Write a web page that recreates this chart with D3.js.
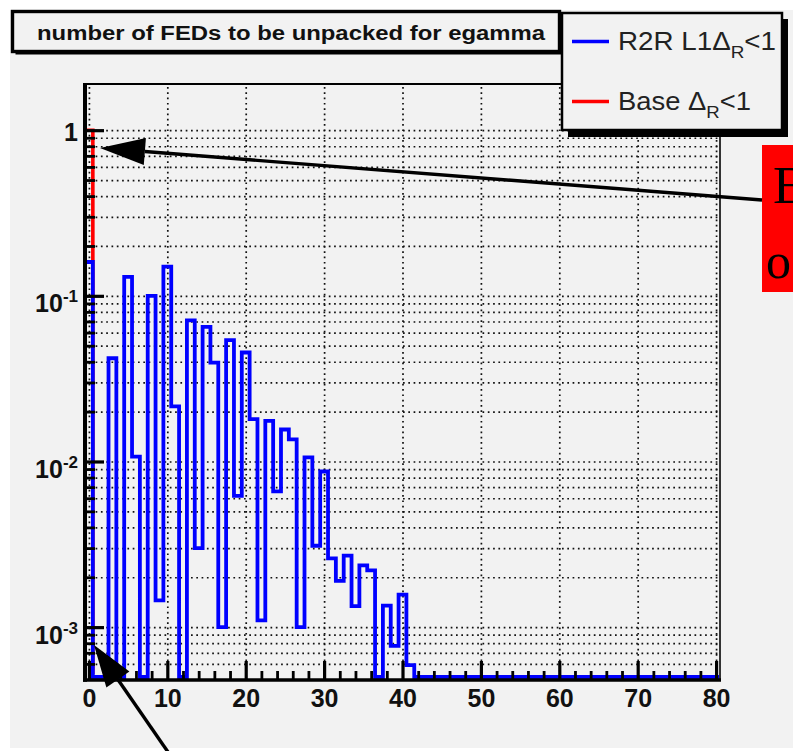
<!DOCTYPE html>
<html>
<head>
<meta charset="utf-8">
<script src="https://cdn.jsdelivr.net/npm/d3@7/dist/d3.min.js"></script>
<style>
  html, body { margin: 0; padding: 0; background: #fff; }
  svg { display: block; }
  text { font-family: "Liberation Sans", Arial, Helvetica, sans-serif; }
</style>
</head>
<body>
<div id="chart"></div>
<script>
// one bin per integer FED count, bins run from k-0.5 to k+0.5
const fedBins = d3.range(0, 81);
// R2R L1 dR<1 (blue), normalised contents of bins 0..41, later bins are empty
const r2rValues = [
  0.16, 0, 0, 0.042, 0, 0.13, 0.0107, 0, 0.10, 0.00145,
  0.15, 0.0215, 0, 0.071, 0.003, 0.065, 0.0395, 0.001, 0.054, 0.0062,
  0.0455, 0.018, 0.0011, 0.0176, 0.0066, 0.0156, 0.0136, 0.001, 0.0106, 0.0031,
  0.0087, 0.0026, 0.0019, 0.0027, 0.00134, 0.00236, 0.0022, 0, 0.00135, 0.00077,
  0.00157, 0.00059
];
// Base dR<1 (red): everything sits in bin 0
const baseValues = [1];

const xTickLabels = [0, 10, 20, 30, 40, 50, 60, 70, 80];
const yMajorTicks = [1, 1e-1, 1e-2, 1e-3];
const yTickExponents = ["", "-1", "-2", "-3"];

const titleText = "number of FEDs to be unpacked for egamma";

const width = 793, height = 751;
const frame = {left: 85, right: 720, top: 84, bottom: 677};
const axisLineY = 680;
const bg = "#f2f2f2";

const svg = d3.select("#chart").append("svg")
    .attr("width", width)
    .attr("height", height);

// canvas
svg.append("rect")
    .attr("x", 10).attr("y", 10)
    .attr("width", width - 10).attr("height", 738)
    .attr("fill", bg);

const x = d3.scaleLinear().domain([-0.5, 80.5]).range([frame.left, frame.right]);
const y = d3.scaleLog().domain([5e-4, 1.9]).range([frame.bottom, frame.top]);

// dotted grid
const dotted = sel => sel.selectAll("line")
    .attr("stroke", "#111")
    .attr("stroke-width", 1.7)
    .attr("stroke-dasharray", "1.7,3.6");

svg.append("g")
    .attr("class", "xGrid")
    .attr("transform", "translate(0," + frame.bottom + ")")
    .call(d3.axisBottom(x).tickValues(xTickLabels).tickSize(-(frame.bottom - frame.top)).tickFormat(""))
    .call(g => g.select(".domain").remove())
    .call(dotted);

const yAllTicks = y.ticks().filter(v => v > 5.01e-4);
svg.append("g")
    .attr("class", "yGrid")
    .attr("transform", "translate(" + frame.left + ",0)")
    .call(d3.axisLeft(y).tickValues(yAllTicks).tickSize(-(frame.right - frame.left)).tickFormat(""))
    .call(g => g.select(".domain").remove())
    .call(dotted);

// histogram outlines
function stepPoints(values) {
    const floor = y.range()[0];
    const pts = [[x(-0.5), floor]];
    fedBins.forEach(k => {
        const v = values[k] || 0;
        const yy = v > 0 ? y(v) : floor;
        pts.push([x(k - 0.5), yy], [x(k + 0.5), yy]);
    });
    pts.push([x(80.5), floor]);
    return pts;
}
const stepLine = d3.line();

svg.append("clipPath").attr("id", "baseClip")
    .append("rect")
    .attr("x", frame.left).attr("y", frame.top - 2)
    .attr("width", frame.right - frame.left).attr("height", frame.bottom - frame.top - 1);

svg.append("path")
    .attr("class", "baseHist")
    .attr("clip-path", "url(#baseClip)")
    .attr("d", stepLine(stepPoints(baseValues)))
    .attr("fill", "none")
    .attr("stroke", "#ff0000")
    .attr("stroke-width", 3.6);

svg.append("path")
    .attr("class", "r2rHist")
    .attr("d", stepLine(stepPoints(r2rValues)))
    .attr("fill", "none")
    .attr("stroke", "#0000ff")
    .attr("stroke-width", 3.8)
    .attr("stroke-linejoin", "miter");

// frame top and right
svg.append("line")
    .attr("x1", frame.left).attr("x2", frame.right)
    .attr("y1", frame.top).attr("y2", frame.top)
    .attr("stroke", "#000").attr("stroke-width", 2);
svg.append("line")
    .attr("x1", frame.right).attr("x2", frame.right)
    .attr("y1", frame.top).attr("y2", axisLineY)
    .attr("stroke", "#333").attr("stroke-width", 2);

// x axis: major ticks with labels, minor ticks every 2
const xMinor = d3.range(2, 80, 2).filter(v => v % 10 !== 0);
svg.append("g")
    .attr("class", "xAxisMinor")
    .attr("transform", "translate(0," + axisLineY + ")")
    .call(d3.axisBottom(x).tickValues(xMinor).tickSize(-9).tickFormat(""))
    .call(g => g.select(".domain").remove())
    .selectAll("line").attr("stroke", "#000").attr("stroke-width", 2.8);

const xAxisG = svg.append("g")
    .attr("class", "xAxisG")
    .attr("transform", "translate(0," + axisLineY + ")")
    .call(d3.axisBottom(x).tickValues(xTickLabels).tickSize(-19).tickPadding(9).tickFormat(d3.format("d")))
    .call(g => g.select(".domain").remove());
xAxisG.selectAll("line").attr("stroke", "#000").attr("stroke-width", 3.2);
xAxisG.selectAll("text")
    .attr("fill", "#111")
    .style("font-size", "25px")
    .style("font-weight", "bold");

// y axis: minor + major ticks
const yMinor = yAllTicks.filter(v => !yMajorTicks.includes(v));
svg.append("g")
    .attr("class", "yAxisMinor")
    .attr("transform", "translate(" + frame.left + ",0)")
    .call(d3.axisLeft(y).tickValues(yMinor).tickSize(-10).tickFormat(""))
    .call(g => g.select(".domain").remove())
    .selectAll("line").attr("stroke", "#000").attr("stroke-width", 2.8);

const yAxisG = svg.append("g")
    .attr("class", "yAxisG")
    .attr("transform", "translate(" + frame.left + ",0)")
    .call(d3.axisLeft(y).tickValues(yMajorTicks).tickSize(-19).tickPadding(7).tickFormat(""))
    .call(g => g.select(".domain").remove());
yAxisG.selectAll("line").attr("stroke", "#000").attr("stroke-width", 3.2);
yAxisG.selectAll(".tick text")
    .attr("fill", "#111")
    .style("font-size", "25px")
    .style("font-weight", "bold")
    .each(function (d) {
        const i = yMajorTicks.indexOf(d);
        const t = d3.select(this);
        if (yTickExponents[i] === "") {
            t.attr("dy", 10).text("1");
        } else {
            t.attr("dy", 16).text("10");
            t.append("tspan")
                .attr("dy", -10)
                .style("font-size", "17px")
                .text(yTickExponents[i]);
        }
    });

// axis lines drawn over the ticks
svg.append("line")
    .attr("x1", frame.left - 2).attr("x2", frame.right + 1)
    .attr("y1", axisLineY).attr("y2", axisLineY)
    .attr("stroke", "#000").attr("stroke-width", 3.6);
svg.append("line")
    .attr("x1", frame.left).attr("x2", frame.left)
    .attr("y1", frame.top - 1).attr("y2", axisLineY + 1.8)
    .attr("stroke", "#000").attr("stroke-width", 4);

// title pave
svg.append("rect")
    .attr("x", 15.5).attr("y", 14.5).attr("width", 547).attr("height", 40)
    .attr("fill", "#000");
svg.append("rect")
    .attr("x", 12.5).attr("y", 11.5).attr("width", 547).attr("height", 40)
    .attr("fill", bg).attr("stroke", "#000").attr("stroke-width", 3.4);
svg.append("text")
    .attr("x", 37).attr("y", 40)
    .attr("textLength", 508).attr("lengthAdjust", "spacingAndGlyphs")
    .style("font-size", "19.5px").style("font-weight", "bold")
    .attr("fill", "#111")
    .text(titleText);

// legend
const legend = svg.append("g").attr("class", "legend");
legend.append("rect")
    .attr("x", 568).attr("y", 19).attr("width", 220).attr("height", 118)
    .attr("fill", "#000");
legend.append("rect")
    .attr("x", 562).attr("y", 13).attr("width", 220).attr("height", 117)
    .attr("fill", bg).attr("stroke", "#000").attr("stroke-width", 2.5);

const legendEntries = [
    {color: "#0000ff", label: "R2R L1", lineY: 41.5, base: 50, len: 158},
    {color: "#ff0000", label: "Base ", lineY: 101.5, base: 110, len: 133}
];
legendEntries.forEach(e => {
    legend.append("line")
        .attr("x1", 572).attr("x2", 609)
        .attr("y1", e.lineY).attr("y2", e.lineY)
        .attr("stroke", e.color).attr("stroke-width", 3.6);
    const t = legend.append("text")
        .attr("x", 618).attr("y", e.base)
        .attr("textLength", e.len).attr("lengthAdjust", "spacingAndGlyphs")
        .style("font-size", "25px")
        .attr("fill", "#222");
    t.append("tspan").text(e.label + "\u0394");
    t.append("tspan").attr("dy", 8).style("font-size", "17px").text("R");
    t.append("tspan").attr("dy", -8).text("<1");
});

// red annotation box (cut at the page edge, as in the slide)
svg.append("rect")
    .attr("x", 762).attr("y", 145).attr("width", 40).attr("height", 147)
    .attr("fill", "#ff0000");
svg.append("text")
    .attr("x", 773).attr("y", 203)
    .style("font-family", "'Liberation Serif', 'Times New Roman', serif")
    .style("font-size", "53px")
    .attr("fill", "#000")
    .text("E");
svg.append("text")
    .attr("x", 766).attr("y", 278)
    .style("font-family", "'Liberation Serif', 'Times New Roman', serif")
    .style("font-size", "50px")
    .attr("fill", "#000")
    .text("o");

// arrows
function arrow(tail, tip, headLen, headHalf) {
    const dx = tail[0] - tip[0], dy = tail[1] - tip[1];
    const L = Math.hypot(dx, dy);
    const ux = dx / L, uy = dy / L;
    const bx = tip[0] + ux * headLen, by = tip[1] + uy * headLen;
    svg.append("line")
        .attr("x1", tail[0]).attr("y1", tail[1])
        .attr("x2", bx).attr("y2", by)
        .attr("stroke", "#000").attr("stroke-width", 3.4);
    svg.append("polygon")
        .attr("points", [
            tip,
            [bx - uy * headHalf, by + ux * headHalf],
            [bx + uy * headHalf, by - ux * headHalf]
        ].map(p => p.join(",")).join(" "))
        .attr("fill", "#000");
}
arrow([762, 200], [100, 148], 45, 13.5);
arrow([168, 752], [94, 645], 42, 14);
</script>
</body>
</html>
